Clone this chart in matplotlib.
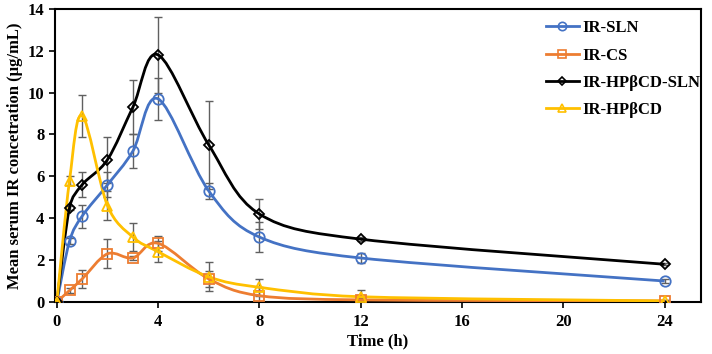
import numpy as np
import matplotlib.pyplot as plt
from matplotlib.path import Path
from matplotlib.patches import PathPatch
from matplotlib.lines import Line2D

plt.rcParams['font.family'] = ['Liberation Serif', 'DejaVu Serif']
plt.rcParams['font.weight'] = 'bold'

# Vrijeme uzorkovanja (h)
time_h = [0, 0.5, 1, 2, 3, 4, 6, 8, 12, 24]

# Srednje koncentracije (ug/mL) i standardne devijacije
ir_sln = [0, 2.9, 4.1, 5.6, 7.2, 9.7, 5.3, 3.1, 2.1, 1.0]
ir_sln_sd = [0, 0.15, 0.55, 0.6, 0.8, 1.0, 0.4, 0.7, 0.25, 0.1]

ir_cs = [0, 0.55, 1.1, 2.3, 2.1, 2.8, 1.1, 0.3, 0.1, 0.05]
ir_cs_sd = [0, 0.1, 0.45, 0.7, 0.1, 0.35, 0.4, 0.4, 0.1, 0.05]

ir_hpbcd_sln = [0, 4.5, 5.6, 6.8, 9.3, 11.8, 7.5, 4.2, 3.0, 1.8]
ir_hpbcd_sln_sd = [0, 0.1, 0.6, 1.1, 1.3, 1.8, 2.1, 0.7, 0.1, 0.05]

ir_hpbcd = [0, 5.8, 8.9, 4.6, 3.1, 2.4, 1.2, 0.7, 0.25, 0.05]
ir_hpbcd_sd = [0, 0.2, 1.0, 0.7, 0.65, 0.5, 0.7, 0.4, 0.3, 0.05]

series = [
    ('IR-SLN', ir_sln, ir_sln_sd, '#4472C4', 'o', 7.5),
    ('IR-CS', ir_cs, ir_cs_sd, '#ED7D31', 's', 7.0),
    ('IR-HPβCD-SLN', ir_hpbcd_sln, ir_hpbcd_sln_sd, 'black', 'D', 5.5),
    ('IR-HPβCD', ir_hpbcd, ir_hpbcd_sd, '#FFC000', '^', 7.5),
]


def smooth_path(ax, x, y):
    # glatka krivulja kao u Excelu (Bezier segmenti u pikselima)
    pts = ax.transData.transform(np.column_stack([x, y]))
    ext = np.vstack([pts[0], pts, pts[-1]])
    verts = [pts[0]]
    codes = [Path.MOVETO]
    for i in range(len(pts) - 1):
        p0, p1, p2, p3 = ext[i], ext[i + 1], ext[i + 2], ext[i + 3]
        half = np.hypot(*(p2 - p1)) / 2
        v1 = (p2 - p0) / 6
        v2 = (p3 - p1) / 6
        if np.hypot(*v1) > half:
            v1 = v1 * half / np.hypot(*v1)
        if np.hypot(*v2) > half:
            v2 = v2 * half / np.hypot(*v2)
        verts += [p1 + v1, p2 - v2, p2]
        codes += [Path.CURVE4] * 3
    verts = ax.transData.inverted().transform(np.array(verts))
    return Path(verts, codes)


fig, ax = plt.subplots(figsize=(7.12, 3.54), dpi=100)
fig.subplots_adjust(left=0.077, right=0.985, top=0.975, bottom=0.147)

ax.set_xlim(-0.08, 25.45)
ax.set_ylim(0, 14)

handles = []
for label, y, sd, color, marker, ms in series:
    ax.errorbar(time_h, y, yerr=sd, fmt='none', ecolor='#606060',
                elinewidth=1, capsize=3, capthick=1, zorder=2)
    ax.add_patch(PathPatch(smooth_path(ax, time_h, y), facecolor='none',
                           edgecolor=color, lw=2, zorder=3))
    ax.plot(time_h, y, ls='none', marker=marker, ms=ms, mfc='none',
            mec=color, mew=1.3, zorder=4)
    handles.append(Line2D([], [], color=color, lw=2, marker=marker,
                          ms=ms - 1.5, mfc='none', mec=color, mew=1.2,
                          label=label))

ax.set_xticks([0, 4, 8, 12, 16, 20, 24])
ax.set_yticks(range(0, 15, 2))
ax.tick_params(direction='out', length=4, width=1.2, labelsize=12)
ax.tick_params(axis='x', pad=5)
for s in ax.spines.values():
    s.set_linewidth(1.5)

ax.set_xlabel('Time (h)', fontsize=12, fontweight='bold', labelpad=2)
ax.set_ylabel('Mean serum IR concetration (µg/mL)', fontsize=12,
              fontweight='bold', labelpad=3)

ax.legend(handles=handles, loc='upper right', bbox_to_anchor=(1.009, 0.984),
          frameon=False, fontsize=12, handlelength=2.0, labelspacing=0.68,
          borderaxespad=0, borderpad=0.4, handletextpad=0.2)

plt.savefig('out.png', dpi=100)
